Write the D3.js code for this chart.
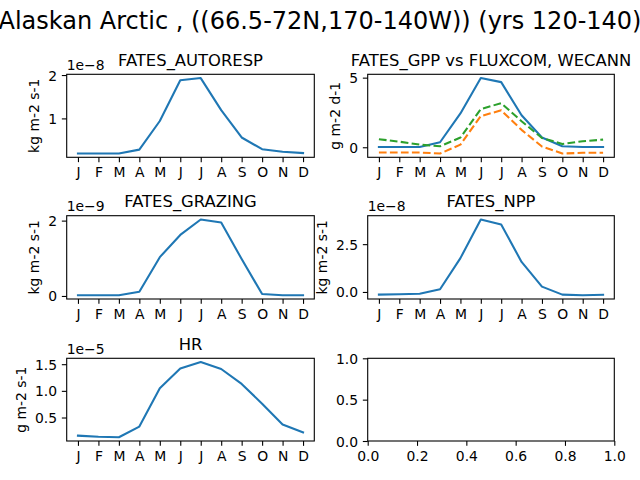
<!DOCTYPE html>
<html>
<head>
<meta charset="utf-8">
<script src="https://cdn.jsdelivr.net/npm/d3@7"></script>
<style>
  body { margin: 0; background: #fff; }
  text { font-family: "DejaVu Sans", sans-serif; fill: #000; }
</style>
</head>
<body>
<script>
// Data
const months = ["J", "F", "M", "A", "M", "J", "J", "A", "S", "O", "N", "D"];

// FATES_AUTORESP, units of 1e-8 kg m-2 s-1
const autoresp = [0.19, 0.19, 0.19, 0.28, 0.94, 1.88, 1.93, 1.19, 0.56, 0.29, 0.23, 0.20];
// GPP, g m-2 d-1
const gppFates = [0.02, 0.02, 0.02, 0.36, 2.43, 4.97, 4.68, 2.30, 0.70, 0.07, 0.02, 0.02];
const gppFluxcom = [-0.38, -0.38, -0.38, -0.45, 0.19, 2.24, 2.65, 1.25, 0.05, -0.45, -0.40, -0.40];
const gppWecann = [0.58, 0.40, 0.19, 0.07, 0.70, 2.74, 3.17, 1.87, 0.67, 0.24, 0.43, 0.55];
// FATES_GRAZING, units of 1e-9 kg m-2 s-1
const grazing = [0.02, 0.02, 0.02, 0.11, 1.03, 1.62, 2.03, 1.95, 0.98, 0.05, 0.02, 0.02];
// FATES_NPP, units of 1e-8 kg m-2 s-1
const npp = [-0.14, -0.12, -0.09, 0.14, 1.77, 3.79, 3.53, 1.57, 0.28, -0.14, -0.17, -0.15];
// HR, units of 1e-5 g m-2 s-1
const hr = [0.16, 0.14, 0.13, 0.33, 1.05, 1.42, 1.54, 1.41, 1.13, 0.76, 0.37, 0.22];

// tick values per panel
const ticksAutoresp = [1, 2];
const ticksGpp = [0, 5];
const ticksGrazing = [0, 2];
const ticksNpp = [0, 2.5];
const ticksHr = [0.5, 1.0, 1.5];
const ticksEmpty = [0, 0.5, 1];
const ticksEmptyX = [0, 0.2, 0.4, 0.6, 0.8, 1.0];

const suptitle = "Alaskan Arctic , ((66.5-72N,170-140W)) (yrs 120-140)";

//Variables
const width = 640;
const height = 480;
const fs = 13.9;
const tickLen = 4.86;
const tickPad = 4.86;
const colors = ["#1f77b4", "#ff7f0e", "#2ca02c"];
const cols = [[66.7, 314.3], [367.7, 614.3]];
const rows = [[74.3, 157.3], [215.7, 299], [358.3, 441]];

const svg = d3.select("body")
    .append("svg")
    .attr("width", width)
    .attr("height", height)
    .style("background-color", "#fff");

svg.append("text")
    .attr("x", width / 2)
    .attr("y", 29)
    .attr("text-anchor", "middle")
    .attr("font-size", 24)
    .text(suptitle);

const panels = [
    { col: 0, row: 0, title: "FATES_AUTORESP", ylabel: "kg m-2 s-1", offset: "1e\u22128",
      series: [{ v: autoresp, c: colors[0] }], ticks: ticksAutoresp, fmt: d3.format("d") },
    { col: 1, row: 0, title: "FATES_GPP vs FLUXCOM, WECANN", ylabel: "g m-2 d-1", offset: null,
      series: [{ v: gppFates, c: colors[0] }, { v: gppFluxcom, c: colors[1], dash: true },
               { v: gppWecann, c: colors[2], dash: true }], ticks: ticksGpp, fmt: d3.format("d") },
    { col: 0, row: 1, title: "FATES_GRAZING", ylabel: "kg m-2 s-1", offset: "1e\u22129",
      series: [{ v: grazing, c: colors[0] }], ticks: ticksGrazing, fmt: d3.format("d") },
    { col: 1, row: 1, title: "FATES_NPP", ylabel: "kg m-2 s-1", offset: "1e\u22128",
      series: [{ v: npp, c: colors[0] }], ticks: ticksNpp, fmt: d3.format(".1f") },
    { col: 0, row: 2, title: "HR", ylabel: "g m-2 s-1", offset: "1e\u22125",
      series: [{ v: hr, c: colors[0] }], ticks: ticksHr, fmt: d3.format(".1f") },
    { col: 1, row: 2, empty: true, ticks: ticksEmpty, fmt: d3.format(".1f") }
];

// draw one subplot
const drawPanel = (p) => {
    const [x0, x1] = cols[p.col];
    const [y0, y1] = rows[p.row];
    const g = svg.append("g");

    let xScale, yScale;
    if (p.empty) {
        xScale = d3.scaleLinear().domain([0, 1]).range([x0, x1]);
        yScale = d3.scaleLinear().domain([0, 1]).range([y1, y0]);
    } else {
        xScale = d3.scaleLinear().domain([-0.55, 11.55]).range([x0, x1]);
        const all = p.series.flatMap(s => s.v);
        const [mn, mx] = d3.extent(all);
        const pad = (mx - mn) * 0.05;
        yScale = d3.scaleLinear().domain([mn - pad, mx + pad]).range([y1, y0]);
    }

    // lines
    if (!p.empty) {
        const line = d3.line().x((d, i) => xScale(i)).y(d => yScale(d));
        p.series.forEach(s => {
            g.append("path")
                .datum(s.v)
                .attr("d", line)
                .attr("fill", "none")
                .attr("stroke", s.c)
                .attr("stroke-width", 2.08)
                .attr("stroke-linejoin", "round")
                .attr("stroke-linecap", s.dash ? "butt" : "square")
                .attr("stroke-dasharray", s.dash ? "7.7,3.3" : null);
        });
    }

    // frame
    g.append("rect")
        .attr("x", x0).attr("y", y0)
        .attr("width", x1 - x0).attr("height", y1 - y0)
        .attr("fill", "none")
        .attr("stroke", "#000")
        .attr("stroke-width", 1.1);

    // x axis
    const xAxis = p.empty
        ? d3.axisBottom(xScale).tickValues(ticksEmptyX).tickFormat(d3.format(".1f"))
        : d3.axisBottom(xScale).tickValues(d3.range(12)).tickFormat(i => months[i]);
    const gx = g.append("g")
        .attr("transform", `translate(0, ${y1})`)
        .call(xAxis.tickSize(tickLen).tickPadding(tickPad).tickSizeOuter(0));
    gx.select(".domain").remove();

    // y axis
    const yAxis = d3.axisLeft(yScale).tickValues(p.ticks).tickFormat(p.fmt)
        .tickSize(tickLen).tickPadding(tickPad).tickSizeOuter(0);
    const gy = g.append("g")
        .attr("transform", `translate(${x0}, 0)`)
        .call(yAxis);
    gy.select(".domain").remove();

    [gx, gy].forEach(a => {
        a.attr("font-family", "DejaVu Sans").attr("font-size", fs);
        a.selectAll(".tick line").attr("stroke-width", 1.1);
    });
    gy.selectAll(".tick text").attr("dy", "0.36em");

    if (p.empty) return;

    // title
    g.append("text")
        .attr("x", (x0 + x1) / 2)
        .attr("y", y0 - 8.3)
        .attr("text-anchor", "middle")
        .attr("font-size", 16.4)
        .text(p.title);

    // offset text
    if (p.offset) {
        g.append("text")
            .attr("x", x0)
            .attr("y", y0 - 4.3)
            .attr("font-size", fs)
            .text(p.offset);
    }

    // ylabel
    let maxW = 0;
    gy.selectAll(".tick text").each(function () {
        maxW = Math.max(maxW, this.getComputedTextLength());
    });
    const lx = x0 - tickLen - tickPad - maxW - 5.5 - 3.3;
    const ly = (y0 + y1) / 2;
    g.append("text")
        .attr("transform", `translate(${lx}, ${ly}) rotate(-90)`)
        .attr("text-anchor", "middle")
        .attr("font-size", fs)
        .text(p.ylabel);
};

panels.forEach(drawPanel);
</script>
</body>
</html>
